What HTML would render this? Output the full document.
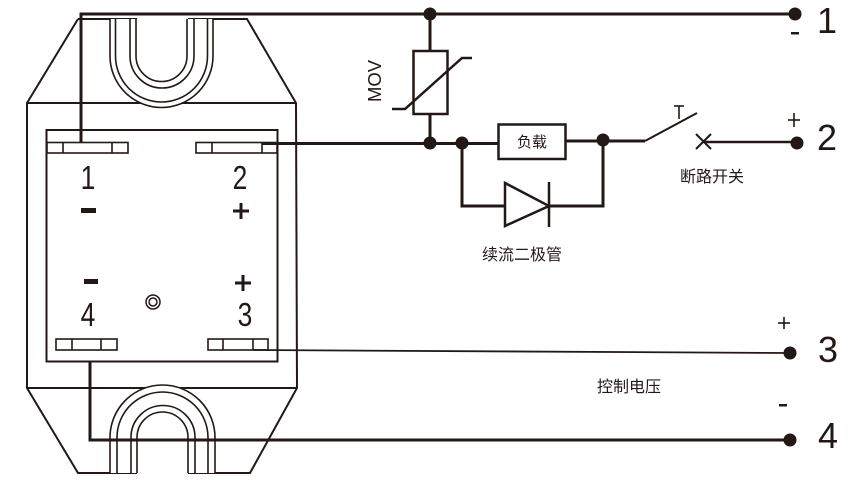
<!DOCTYPE html>
<html>
<head>
<meta charset="utf-8">
<style>
  html,body{margin:0;padding:0;background:#fff;}
  svg{display:block;}
  text{fill:#231815;}
</style>
</head>
<body>
<svg width="868" height="492" viewBox="0 0 868 492" xmlns="http://www.w3.org/2000/svg">
  <g fill="none" stroke="#231815" stroke-linejoin="miter">
    <!-- Body outline -->
    <path d="M78,19 L27,103 L27,388 L78,473 L137,473 M188,473 L250,473 L297,388 L296,103 L247,19 L188,19 M137,19 L78,19" stroke-width="2"/>
    <line x1="27" y1="103" x2="296" y2="103" stroke-width="2"/>
    <line x1="27" y1="388" x2="297" y2="388" stroke-width="2"/>
    <!-- Top U slot -->
    <g stroke-width="1.6" fill="#fff">
      <path d="M110,19 L110,56 A51.5,51.5 0 0 0 213,56 L213,19"/>
      <path d="M115.5,19 L115.5,56 A46,46 0 0 0 207.5,56 L207.5,19"/>
      <path d="M130,19 L130,56 A32,32 0 0 0 194,56 L194,19"/>
      <path d="M136,19 L136,56 A25.5,25.5 0 0 0 187,56 L187,19"/>
    </g>
    <!-- Bottom U slot -->
    <g stroke-width="1.6" fill="#fff">
      <path d="M110,473 L110,437.5 A52.5,52.5 0 0 1 215,437.5 L215,473"/>
      <path d="M117,473 L117,437.5 A45.5,45.5 0 0 1 208,437.5 L208,473"/>
      <path d="M131,473 L131,437.5 A32,32 0 0 1 195,437.5 L195,473"/>
      <path d="M137,473 L137,437.5 A25.5,25.5 0 0 1 188,437.5 L188,473"/>
    </g>
    <!-- Inner rectangle -->
    <rect x="46.5" y="130" width="231" height="231.5" stroke-width="2"/>
    <!-- Pads -->
    <g stroke-width="1.6" fill="#fff">
      <rect x="47" y="142.5" width="81" height="10.5"/>
      <line x1="63" y1="142.5" x2="63" y2="153"/>
      <line x1="112" y1="142.5" x2="112" y2="153"/>
      <rect x="196" y="142.5" width="81" height="10.5"/>
      <line x1="212" y1="142.5" x2="212" y2="153"/>
      <line x1="262" y1="142.5" x2="262" y2="153"/>
      <rect x="56" y="339" width="61" height="11"/>
      <line x1="72" y1="339" x2="72" y2="350"/>
      <line x1="101" y1="339" x2="101" y2="350"/>
      <rect x="208" y="339" width="60" height="11"/>
      <line x1="223" y1="339" x2="223" y2="350"/>
      <line x1="253" y1="339" x2="253" y2="350"/>
    </g>
    <!-- ◎ -->
    <circle cx="153" cy="302" r="7" stroke-width="1.5"/>
    <circle cx="153" cy="302" r="4" stroke-width="1.5"/>

    <!-- Wires -->
    <polyline points="81,143 81,14 795,14" stroke-width="3"/>
    <polyline points="262,143.5 498,143.5" stroke-width="3"/>
    <line x1="566" y1="141" x2="645" y2="141" stroke-width="3"/>
    <polyline points="462,143 462,206 603,206 603,141" stroke-width="3"/>
    <line x1="253" y1="350" x2="790" y2="353" stroke-width="1.8"/>
    <polyline points="90,361 90,440 790,440" stroke-width="3"/>
    <!-- MOV -->
    <line x1="430" y1="14" x2="430" y2="51" stroke-width="3"/>
    <line x1="430" y1="114" x2="430" y2="143" stroke-width="3"/>
    <rect x="413.5" y="51" width="34" height="63" stroke-width="2.5"/>
    <polyline points="392,109 405,109 462,58 472,58" stroke-width="2.5"/>
    <!-- Load box -->
    <rect x="498.5" y="124.5" width="67" height="34.5" stroke-width="2.5"/>
    <!-- Diode -->
    <polygon points="505,183 505,226 549,206" stroke-width="2.5" fill="#fff"/>
    <line x1="549" y1="182" x2="549" y2="227" stroke-width="2.5"/>
    <!-- Switch -->
    <line x1="645" y1="141" x2="697" y2="113" stroke-width="2"/>
    <polyline points="674,106 684,106" stroke-width="1.6"/>
    <line x1="679" y1="106" x2="679" y2="119" stroke-width="1.6"/>
    <line x1="696" y1="134" x2="711" y2="149" stroke-width="2"/>
    <line x1="696" y1="149" x2="711" y2="134" stroke-width="2"/>
    <line x1="705" y1="142" x2="797" y2="142" stroke-width="2.5"/>
    <!-- Right plus signs -->
    <line x1="788" y1="120" x2="800" y2="120" stroke-width="1.6"/>
    <line x1="794" y1="113" x2="794" y2="127" stroke-width="1.6"/>
    <line x1="778" y1="323" x2="790" y2="323" stroke-width="1.6"/>
    <line x1="784" y1="317" x2="784" y2="329" stroke-width="1.6"/>
  </g>

  <!-- Junction dots -->
  <g fill="#231815">
    <circle cx="430" cy="14" r="6.5"/>
    <circle cx="430" cy="143" r="6.5"/>
    <circle cx="462" cy="143" r="6.5"/>
    <circle cx="603" cy="140" r="6.5"/>
    <circle cx="795" cy="14" r="6.5"/>
    <circle cx="797" cy="143" r="6.5"/>
    <circle cx="790" cy="353" r="6.5"/>
    <circle cx="790" cy="440" r="6.5"/>
    <!-- Body minus signs -->
    <rect x="81" y="208" width="15" height="5"/>
    <rect x="84" y="279" width="14" height="5"/>
    <!-- Body plus signs -->
    <rect x="233" y="209.5" width="16" height="3"/>
    <rect x="239.5" y="203" width="3" height="16"/>
    <rect x="235" y="281.5" width="16" height="3"/>
    <rect x="241.5" y="275" width="3" height="16"/>
    <!-- Right side minus signs -->
    <rect x="791" y="32" width="8" height="2.5"/>
    <rect x="779" y="404" width="8" height="2.5"/>
  </g>

  <!-- Body digits -->
  <g font-family="'Liberation Sans', sans-serif" font-size="33" text-anchor="middle">
    <text transform="translate(88,189) scale(0.8,1)">1</text>
    <text transform="translate(240,189) scale(0.8,1)">2</text>
    <text transform="translate(88,326) scale(0.8,1)">4</text>
    <text transform="translate(245,326) scale(0.8,1)">3</text>
  </g>

  <!-- Right terminal numbers -->
  <g font-family="'Liberation Sans', sans-serif" font-size="36" text-anchor="middle">
    <text x="827" y="33">1</text>
    <text x="827" y="150">2</text>
    <text x="828" y="362">3</text>
    <text x="828" y="448">4</text>
  </g>

  <!-- MOV label -->
  <text transform="translate(381,81) rotate(-90)" font-family="'Liberation Sans', sans-serif" font-size="18" text-anchor="middle" textLength="42" lengthAdjust="spacingAndGlyphs">MOV</text>

  <!-- Chinese labels -->
  <g font-family="'Liberation Sans', 'Noto Sans CJK SC', sans-serif" text-anchor="middle">
    <text x="532" y="147" font-size="15">负载</text>
    <text x="522" y="260" font-size="16">续流二极管</text>
    <text x="712" y="182" font-size="16">断路开关</text>
    <text x="629" y="392" font-size="16">控制电压</text>
  </g>
</svg>
</body>
</html>
